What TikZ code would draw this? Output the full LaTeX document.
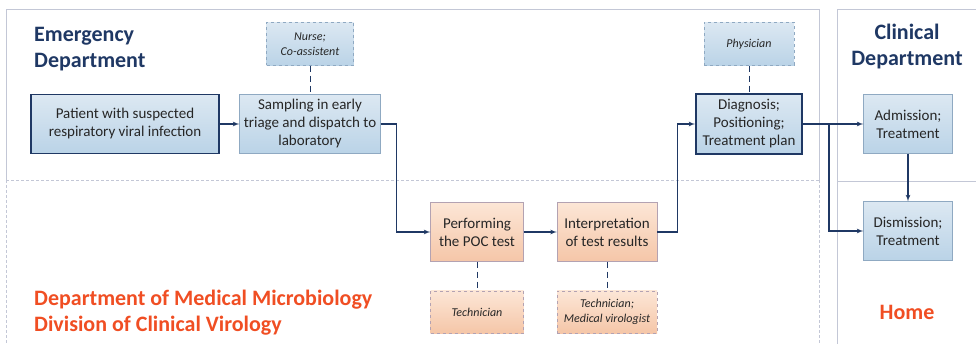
\documentclass[tikz,border=0pt]{standalone}
\usepackage{fontspec}
\setmainfont{Carlito}
\usepackage{xcolor}
\usetikzlibrary{arrows,positioning}

\definecolor{navy}{HTML}{1F3864}
\definecolor{hdred}{HTML}{F04E23}
\definecolor{txt}{HTML}{262626}
\definecolor{panel}{HTML}{C3C7D6}
\definecolor{blueA}{HTML}{DCE8F2}
\definecolor{blueB}{HTML}{BAD3E7}
\definecolor{blueline}{HTML}{8FA9C2}
\definecolor{orA}{HTML}{FCE6D6}
\definecolor{orB}{HTML}{F5C6A8}
\definecolor{orline}{HTML}{B3A2B2}

\begin{document}
\begin{tikzpicture}[x=1pt, y=-1pt, >=latex']

	\tikzstyle{task}=[draw=blueline, top color=blueA, bottom color=blueB, text=txt, align=center,
		inner sep=0pt, minimum height=59, font=\fontsize{15}{18}\selectfont]
	\tikzstyle{key}=[task, draw=navy, line width=1.8pt]
	\tikzstyle{lab}=[task, draw=orline, top color=orA, bottom color=orB]
	\tikzstyle{staff}=[dashed, minimum height=43, font=\itshape\fontsize{12}{15}\selectfont]
	\tikzstyle{head}=[inner sep=0pt, font=\bfseries\fontsize{22}{26}\selectfont]
	\tikzstyle{flow}=[->, draw=navy, line width=1.2pt]
	\tikzstyle{link}=[draw=navy, line width=0.9pt, dash pattern=on 6pt off 4pt]

	\useasboundingbox (0,0) rectangle (976,344);

	% panels
	\draw[panel, line width=0.8pt] (6,180) |- (819,9) -- (819,180);
	\draw[panel, line width=0.8pt, densely dashed] (6,180) -- (6,344) (819,180) -- (819,344) (6,180) -- (819,180);
	\draw[panel, line width=0.8pt] (837,344) |- (976,9) (837,181) -- (976,181);

	% headers
	\node[head, text=navy, align=left, anchor=north west] (ed) at (34,27) {Emergency\\Department};
	\node[head, text=navy, align=center, anchor=north] (cd) at (907,24) {Clinical\\Department};
	\node[head, text=hdred, align=left, anchor=north west] (mm) at (34,290) {Department of Medical Microbiology\\Division of Clinical Virology};
	\node[head, text=hdred] (home) at (907,312) {Home};

	% emergency department
	\node[key, minimum width=188] (patient) at (125,124) {Patient with suspected\\respiratory viral infection};
	\node[task, minimum width=141] (sampling) at (310,124) {Sampling in early\\triage and dispatch to\\laboratory};
	\node[task, staff, minimum width=87] (nurse) at (310,44) {Nurse;\\Co-assistent};
	\node[key, minimum width=106, minimum height=60] (diag) at (749,124) {Diagnosis;\\Positioning;\\Treatment plan};
	\node[task, staff, minimum width=90] (phys) at (749,44) {Physician};

	% laboratory
	\node[lab, minimum width=93] (poc) at (477,232) {Performing\\the POC test};
	\node[lab, minimum width=100] (interp) at (607,232) {Interpretation\\of test results};
	\node[lab, staff, minimum width=93, minimum height=42] (tech) at (477,312) {Technician};
	\node[lab, staff, minimum width=100, minimum height=42] (viro) at (607,312) {Technician;\\Medical virologist};

	% clinical department / home
	\node[task, minimum width=89] (adm) at (908,124) {Admission;\\Treatment};
	\node[task, minimum width=89] (dism) at (908,231) {Dismission;\\Treatment};

	% staff links
	\draw[link] (nurse) -- (sampling);
	\draw[link] (phys) -- (diag);
	\draw[link] (poc) -- (tech);
	\draw[link] (interp) -- (viro);

	% flow
	\draw[flow] (patient) -- (sampling);
	\draw[flow] (sampling.east) -- ++(16,0) |- (poc.west);
	\draw[flow] (poc) -- (interp);
	\draw[flow] (interp.east) -- ++(20,0) |- (diag.west);
	\draw[flow] (diag.east) -- (adm.west);
	\draw[flow] (diag.east) ++(26,0) |- (dism.west);
	\draw[flow] (adm) -- (dism);

\end{tikzpicture}
\end{document}
